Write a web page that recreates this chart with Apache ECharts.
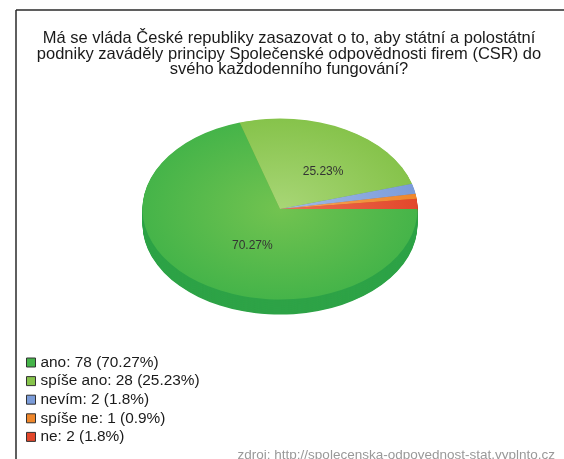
<!DOCTYPE html>
<html>
<head>
<meta charset="utf-8">
<script src="https://cdn.jsdelivr.net/npm/echarts@6/dist/echarts.min.js"></script>
<style>
  html, body { margin: 0; padding: 0; background: #fff; }
  #wrap { position: relative; width: 564px; height: 459px; overflow: hidden; }
  /* pie drawn round, then flattened to an ellipse */
  #pie { position: absolute; left: 0; top: 48.5px; width: 564px; height: 340px;
         transform: scaleY(0.658); transform-origin: 280px 160px; }
  #main { position: absolute; left: 0; top: 0; width: 564px; height: 459px; }
</style>
</head>
<body>
<div id="wrap"><div id="pie"></div><div id="main"></div></div>
<script>
// data
const categories = ['ano', 'spíše ano', 'nevím', 'spíše ne', 'ne'];
const counts = [78, 28, 2, 1, 2];
const titleText = 'Má se vláda České republiky zasazovat o to, aby státní a polostátní\npodniky zaváděly principy Společenské odpovědnosti firem (CSR) do\nsvého každodenního fungování?';
const sourceText = 'zdroj: http://spolecenska-odpovednost-stat.vyplnto.cz';

// colours
const topColors = ['#45b449', '#86c34b', '#7b9cd9', '#ef872b', '#e2472b'];
const lightColors = ['#72c350', '#a8d676', '#a3bbe8', '#f5a660', '#ec7054'];
const sideColors = ['#2ea347', '#6aa83a', '#5d7fc0', '#cf6d18', '#bd351c'];

const FONT = '"Liberation Sans", Arial, sans-serif';
const total = counts.reduce((a, b) => a + b, 0);
const pct = v => +(v / total * 100).toFixed(2);

// 1. flattened 3d pie
const pieChart = echarts.init(document.getElementById('pie'), null, { renderer: 'svg' });
const R = 137.5, CX = 280, CY = 160, DEPTH = 23;
const pieSeries = [];
for (let d = DEPTH; d >= 0; d--) {
  pieSeries.push({
    type: 'pie',
    silent: true,
    center: [CX, CY + d],
    radius: R,
    startAngle: 0,
    label: { show: false },
    labelLine: { show: false },
    emphasis: { disabled: true },
    data: counts.map((v, i) => ({
      name: categories[i],
      value: v,
      itemStyle: {
        borderWidth: 0,
        color: d > 0 ? sideColors[i] : {
          type: 'radial', x: CX, y: CY, r: R, global: true,
          colorStops: [{ offset: 0, color: lightColors[i] }, { offset: 1, color: topColors[i] }]
        }
      }
    }))
  });
}
pieChart.setOption({ animation: false, series: pieSeries });

// 2. title, legend, labels, frame
const mainChart = echarts.init(document.getElementById('main'));
const K = 0.658, MCY = 208.5;
const nudge = [[15, -1], [9, 5], [0, 0], [0, 0], [0, 0]];
mainChart.setOption({
  animation: false,
  title: {
    text: titleText,
    left: 289, top: 31, padding: 0,
    textAlign: 'center',
    textStyle: { fontFamily: FONT, fontSize: 16.5, fontWeight: 'normal', color: '#1a1a1a', lineHeight: 15.5 }
  },
  legend: {
    orient: 'vertical',
    left: 26, top: 355, padding: 0,
    icon: 'rect', itemWidth: 9, itemHeight: 9, itemGap: 3.6,
    selectedMode: false,
    textStyle: { fontFamily: FONT, fontSize: 15.4, color: '#1a1a1a' },
    itemStyle: { borderColor: '#333', borderWidth: 1, opacity: 1 },
    formatter: name => {
      const i = categories.indexOf(name);
      return name + ': ' + counts[i] + ' (' + pct(counts[i]) + '%)';
    },
    data: categories.map((n, i) => ({ name: n, itemStyle: { color: topColors[i] } }))
  },
  graphic: [
    { type: 'line', shape: { x1: 16, y1: 10, x2: 564, y2: 10 }, style: { stroke: '#2a2a2a', lineWidth: 1.5 } },
    { type: 'line', shape: { x1: 16, y1: 10, x2: 16, y2: 459 }, style: { stroke: '#2a2a2a', lineWidth: 1.5 } },
    {
      type: 'text', x: 555, y: 455,
      style: { text: sourceText, fill: '#999', font: '13.5px ' + FONT,
               textAlign: 'right', textVerticalAlign: 'middle', align: 'right', verticalAlign: 'middle' }
    }
  ],
  series: [{
    type: 'pie',
    silent: true,
    center: [CX, MCY],
    radius: R,
    startAngle: 0,
    itemStyle: { color: 'rgba(0,0,0,0)', borderWidth: 0 },
    emphasis: { disabled: true },
    labelLine: { show: false },
    label: {
      show: true,
      position: 'inside',
      fontFamily: FONT, fontSize: 12, color: '#333',
      formatter: p => p.percent > 5 ? pct(p.value) + '%' : ''
    },
    labelLayout: p => {
      const r = p.labelRect;
      const lx = r.x + r.width / 2, ly = r.y + r.height / 2;
      const n = nudge[p.dataIndex];
      return { x: lx + n[0], y: MCY + (ly - MCY) * K + n[1] };
    },
    data: counts.map((v, i) => ({ name: categories[i], value: v }))
  }]
});
</script>
</body>
</html>
